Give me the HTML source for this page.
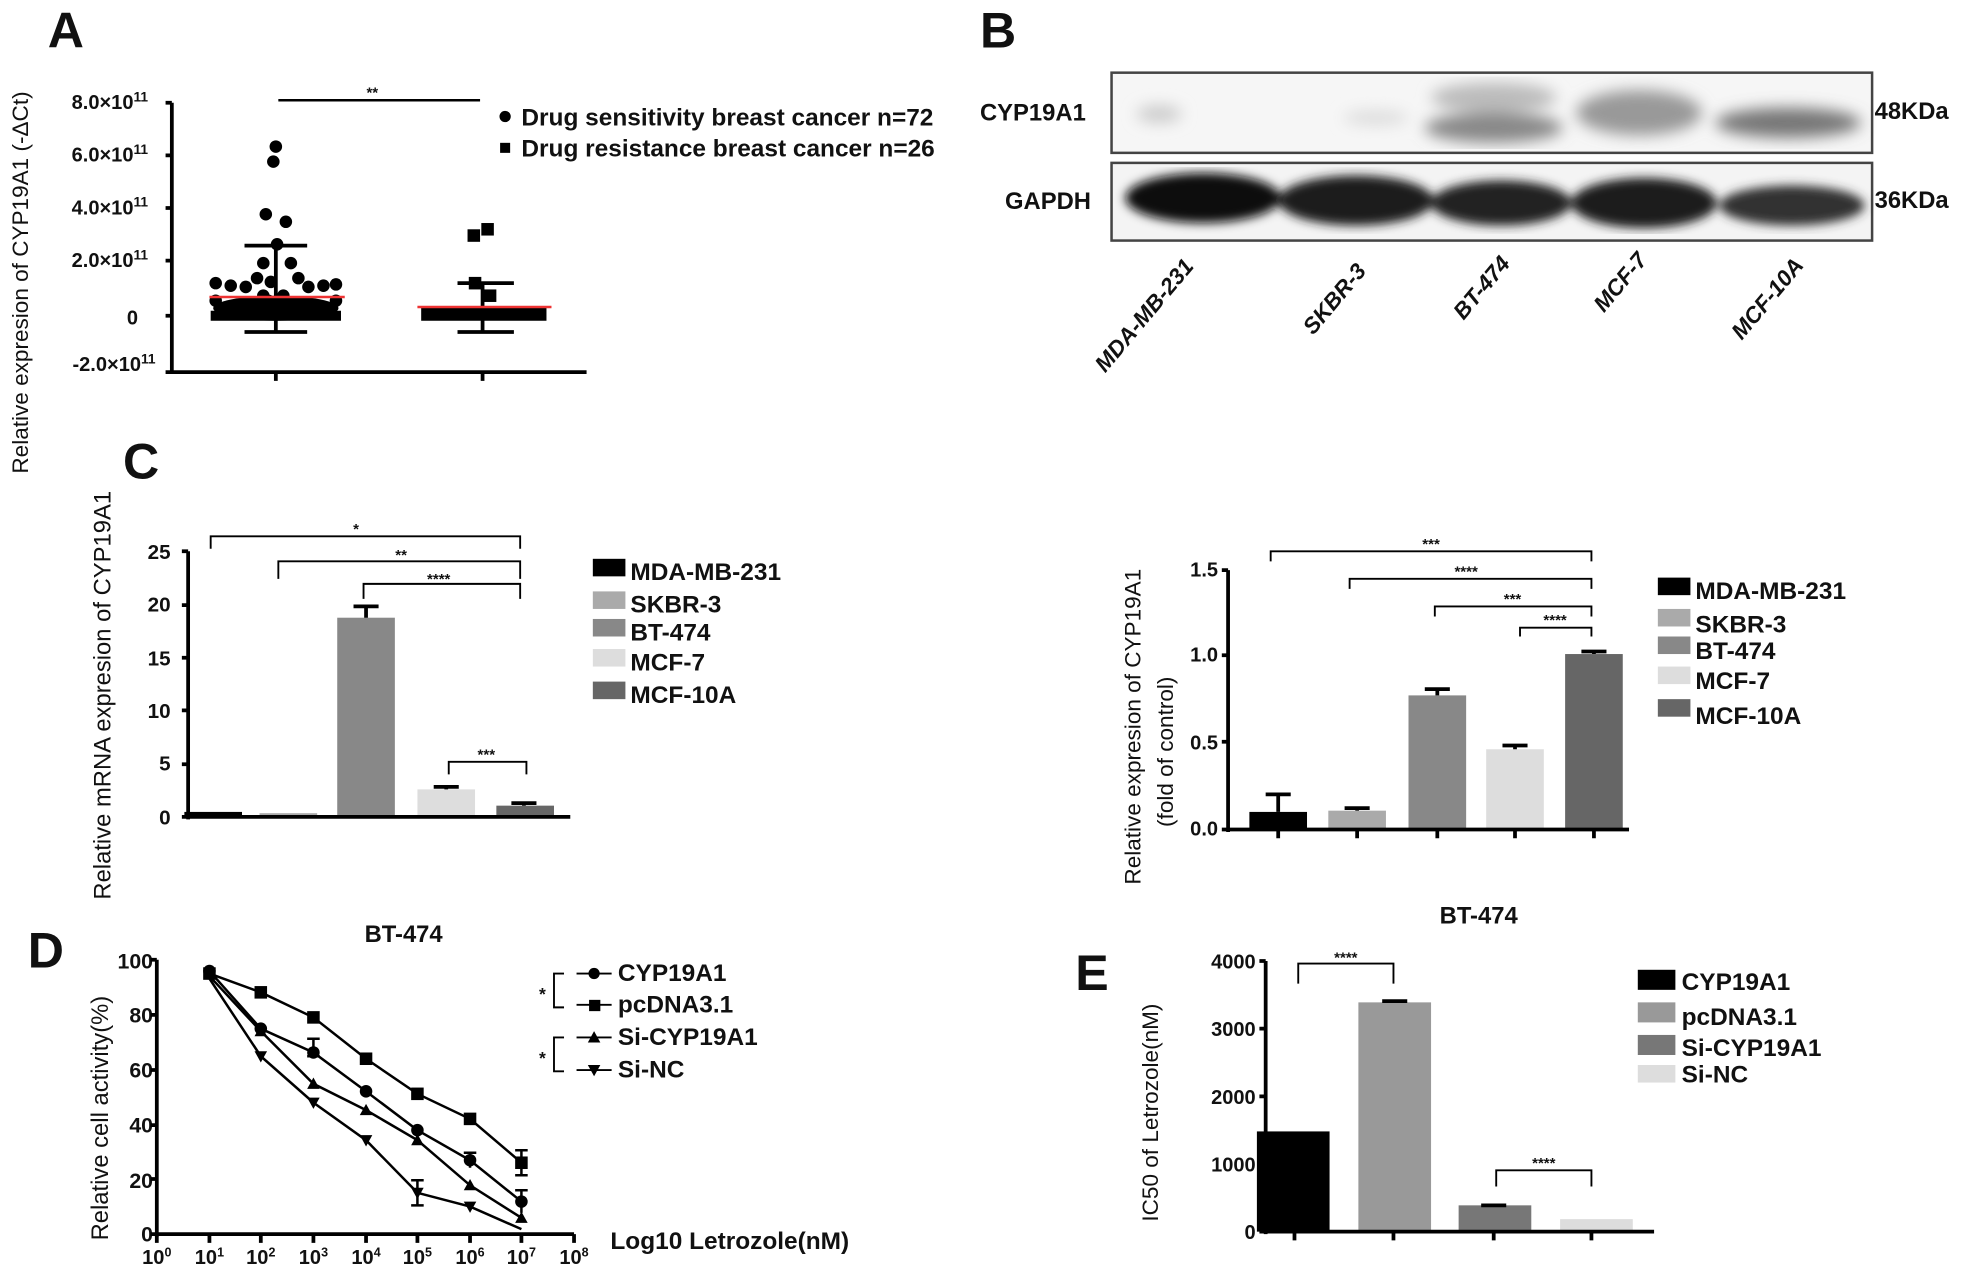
<!DOCTYPE html>
<html><head><meta charset="utf-8"><style>
html,body{margin:0;padding:0;background:#fff}
svg{display:block}
text{font-family:"Liberation Sans",Arial,sans-serif;font-weight:bold;fill:#111}
</style></head><body>
<svg width="1965" height="1273" viewBox="0 0 1568 1016" xmlns="http://www.w3.org/2000/svg">
<defs>
<filter id="blur"><feGaussianBlur stdDeviation="6"/></filter>
<filter id="blur2"><feGaussianBlur stdDeviation="4"/></filter>
</defs>
<!-- Panel A -->
<text x="38" y="38" font-size="40">A</text>
<text transform="translate(22,378) rotate(-90)" font-size="18" style="font-weight:normal">Relative expresion of CYP19A1 (-ΔCt)</text>
<g font-size="16" text-anchor="end">
<text x="118" y="87">8.0×10<tspan font-size="11" dy="-6">11</tspan></text>
<text x="118" y="129">6.0×10<tspan font-size="11" dy="-6">11</tspan></text>
<text x="118" y="171">4.0×10<tspan font-size="11" dy="-6">11</tspan></text>
<text x="118" y="213">2.0×10<tspan font-size="11" dy="-6">11</tspan></text>
<text x="110" y="259">0</text>
<text x="124" y="296">-2.0×10<tspan font-size="11" dy="-6">11</tspan></text>
</g>
<g stroke="#000" stroke-width="3" fill="none">
<path d="M137 82V297M132 297H468M132 82H137M132 124H137M132 166H137M132 208H137M132 252H137M220 297V304M385 297V304"/>
<path d="M222 80H383" stroke-width="2"/>
</g>
<text x="297" y="78" font-size="12" text-anchor="middle">**</text>
<g fill="#000">
<ellipse cx="220" cy="246" rx="50" ry="10"/>
<rect x="168" y="248" width="104" height="8"/>
<circle cx="220" cy="117" r="5"/><circle cx="218" cy="129" r="5"/>
<circle cx="212" cy="171" r="5"/><circle cx="228" cy="177" r="5"/>
<circle cx="221" cy="195" r="5"/><circle cx="210" cy="210" r="5"/><circle cx="232" cy="210" r="5"/>
<circle cx="238" cy="222" r="5"/><circle cx="205" cy="222" r="5"/><circle cx="216" cy="225" r="5"/>
<circle cx="172" cy="226" r="5"/><circle cx="184" cy="228" r="5"/><circle cx="196" cy="229" r="5"/><circle cx="246" cy="229" r="5"/><circle cx="258" cy="228" r="5"/><circle cx="268" cy="227" r="5"/>
<circle cx="210" cy="236" r="5"/><circle cx="226" cy="236" r="5"/><circle cx="214" cy="240" r="5"/>
<circle cx="172" cy="240" r="5"/><circle cx="268" cy="240" r="5"/>
</g>
<g stroke="#000" stroke-width="3"><path d="M220 193V265M195 196H245M195 265H245"/></g>
<path d="M167 237H275" stroke="#e33" stroke-width="2"/>
<g fill="#000">
<rect x="336" y="245" width="100" height="11"/>
<rect x="384" y="178" width="10" height="10"/><rect x="373" y="183" width="10" height="10"/>
<rect x="374" y="221" width="10" height="10"/><rect x="386" y="231" width="10" height="10"/>
</g>
<g stroke="#000" stroke-width="3"><path d="M385 225V265M365 226H410M365 265H410"/></g>
<path d="M333 245H440" stroke="#e33" stroke-width="2"/>
<circle cx="403" cy="93" r="4.5" fill="#000"/>
<rect x="399" y="114" width="8" height="8" fill="#000"/>
<text x="416" y="100" font-size="19.5">Drug sensitivity breast cancer n=72</text>
<text x="416" y="125" font-size="19.5">Drug resistance breast cancer n=26</text>

<!-- Panel B -->
<text x="782" y="38" font-size="40">B</text>
<rect x="887" y="58" width="607" height="64" fill="#f6f6f6" stroke="#444" stroke-width="2"/>
<rect x="887" y="130" width="607" height="62" fill="#f4f4f4" stroke="#444" stroke-width="2"/>
<g filter="url(#blur)">
<ellipse cx="925" cy="91" rx="18" ry="7" fill="#ccc"/>
<ellipse cx="1098" cy="94" rx="26" ry="6" fill="#ddd"/>
<ellipse cx="1192" cy="78" rx="50" ry="12" fill="#bbb"/>
<ellipse cx="1192" cy="102" rx="55" ry="12" fill="#888"/>
<ellipse cx="1308" cy="90" rx="50" ry="18" fill="#999"/>
<ellipse cx="1427" cy="98" rx="58" ry="12" fill="#777"/>
</g>
<g filter="url(#blur2)">
<ellipse cx="960" cy="158" rx="62" ry="20" fill="#0a0a0a"/>
<ellipse cx="1082" cy="160" rx="62" ry="20" fill="#1a1a1a"/>
<ellipse cx="1198" cy="162" rx="56" ry="18" fill="#222"/>
<ellipse cx="1312" cy="162" rx="58" ry="20" fill="#1a1a1a"/>
<ellipse cx="1430" cy="164" rx="58" ry="16" fill="#333"/>
</g>
<text x="782" y="96" font-size="19">CYP19A1</text>
<text x="802" y="167" font-size="19">GAPDH</text>
<text x="1496" y="95" font-size="19">48KDa</text>
<text x="1496" y="166" font-size="19">36KDa</text>
<g font-size="18" font-style="italic">
<text transform="translate(882,298) rotate(-50)">MDA-MB-231</text>
<text transform="translate(1048,268) rotate(-50)">SKBR-3</text>
<text transform="translate(1168,256) rotate(-50)">BT-474</text>
<text transform="translate(1280,250) rotate(-50)">MCF-7</text>
<text transform="translate(1390,272) rotate(-50)">MCF-10A</text>
</g>

<!-- Panel C -->
<text x="98" y="382" font-size="40">C</text>
<text transform="translate(88,718) rotate(-90)" font-size="19" style="font-weight:normal">Relative mRNA expresion of CYP19A1</text>
<g font-size="16.5" text-anchor="end">
<text x="136" y="446">25</text><text x="136" y="488">20</text><text x="136" y="531">15</text><text x="136" y="573">10</text><text x="136" y="615">5</text><text x="136" y="658">0</text>
</g>
<rect x="147" y="648" width="46" height="4" fill="#000"/>
<rect x="207" y="649" width="46" height="3" fill="#aaa"/>
<rect x="269" y="493" width="46" height="159" fill="#888"/>
<rect x="333" y="630" width="46" height="22" fill="#ddd"/>
<rect x="396" y="643" width="46" height="9" fill="#666"/>
<g stroke="#000" stroke-width="3" fill="none">
<path d="M150 440V654M145 440H150M145 483H150M145 525H150M145 567H150M145 610H150M145 652H455"/>
<path d="M292 493V484M282 484H302M356 630V628M346 628H366M418 643V641M408 641H428"/>
</g>
<g stroke="#000" stroke-width="1.5" fill="none">
<path d="M168 438V428H415V438M222 462V448H415V462M290 478V466H415V478M358 618V608H420V618"/>
</g>
<g font-size="12" text-anchor="middle"><text x="284" y="426">*</text><text x="320" y="447">**</text><text x="350" y="466">****</text><text x="388" y="606">***</text></g>
<g font-size="19.5">
<rect x="473" y="446" width="26" height="14" fill="#000"/><text x="503" y="463">MDA-MB-231</text>
<rect x="473" y="472" width="26" height="14" fill="#aaa"/><text x="503" y="489">SKBR-3</text>
<rect x="473" y="494" width="26" height="14" fill="#888"/><text x="503" y="511">BT-474</text>
<rect x="473" y="518" width="26" height="14" fill="#ddd"/><text x="503" y="535">MCF-7</text>
<rect x="473" y="544" width="26" height="14" fill="#666"/><text x="503" y="561">MCF-10A</text>
</g>

<!-- right panel protein -->
<text transform="translate(910,706) rotate(-90)" font-size="18" style="font-weight:normal">Relative expresion of CYP19A1</text>
<text transform="translate(936,660) rotate(-90)" font-size="18" style="font-weight:normal">(fold of control)</text>
<g font-size="16" text-anchor="end">
<text x="972" y="460">1.5</text><text x="972" y="528">1.0</text><text x="972" y="598">0.5</text><text x="972" y="667">0.0</text>
</g>
<rect x="997" y="648" width="46" height="14" fill="#000"/>
<rect x="1060" y="647" width="46" height="15" fill="#aaa"/>
<rect x="1124" y="555" width="46" height="107" fill="#888"/>
<rect x="1186" y="598" width="46" height="64" fill="#ddd"/>
<rect x="1249" y="522" width="46" height="140" fill="#666"/>
<g stroke="#000" stroke-width="3" fill="none">
<path d="M980 455V664M975 455H980M975 523H980M975 592H980M975 662H1300M1020 662V669M1083 662V669M1147 662V669M1209 662V669M1272 662V669"/>
<path d="M1020 648V634M1010 634H1030M1083 647V645M1073 645H1093M1147 555V550M1137 550H1157M1209 598V595M1199 595H1219M1272 522V520M1262 520H1282"/>
</g>
<g stroke="#000" stroke-width="1.5" fill="none">
<path d="M1014 448V440H1270V448M1077 470V462H1270V470M1145 492V484H1270V492M1213 508V501H1270V508"/>
</g>
<g font-size="12" text-anchor="middle"><text x="1142" y="438">***</text><text x="1170" y="460">****</text><text x="1207" y="482">***</text><text x="1241" y="499">****</text></g>
<g font-size="19.5">
<rect x="1323" y="461" width="26" height="14" fill="#000"/><text x="1353" y="478">MDA-MB-231</text>
<rect x="1323" y="486" width="26" height="14" fill="#aaa"/><text x="1353" y="505">SKBR-3</text>
<rect x="1323" y="508" width="26" height="14" fill="#888"/><text x="1353" y="526">BT-474</text>
<rect x="1323" y="532" width="26" height="14" fill="#ddd"/><text x="1353" y="550">MCF-7</text>
<rect x="1323" y="558" width="26" height="14" fill="#666"/><text x="1353" y="578">MCF-10A</text>
</g>

<!-- Panel D -->
<text x="22" y="772" font-size="40">D</text>
<text x="322" y="752" font-size="19" text-anchor="middle">BT-474</text>
<text transform="translate(86,990) rotate(-90)" font-size="19" style="font-weight:normal">Relative cell activity(%)</text>
<g font-size="17" text-anchor="end">
<text x="122" y="773">100</text><text x="122" y="816">80</text><text x="122" y="860">60</text><text x="122" y="904">40</text><text x="122" y="948">20</text><text x="122" y="991">0</text>
</g>
<g stroke="#000" stroke-width="3" fill="none">
<path d="M125 766V987M120 766H125M120 810H125M120 854H125M120 898H125M120 941H125M120 985H458"/>
<path d="M125 985V992M167 985V992M208 985V992M250 985V992M292 985V992M333 985V992M375 985V992M416 985V992M458 985V992"/>
</g>
<g font-size="16" text-anchor="middle">
<text x="125" y="1009">10<tspan font-size="10" dy="-6">0</tspan></text>
<text x="167" y="1009">10<tspan font-size="10" dy="-6">1</tspan></text>
<text x="208" y="1009">10<tspan font-size="10" dy="-6">2</tspan></text>
<text x="250" y="1009">10<tspan font-size="10" dy="-6">3</tspan></text>
<text x="292" y="1009">10<tspan font-size="10" dy="-6">4</tspan></text>
<text x="333" y="1009">10<tspan font-size="10" dy="-6">5</tspan></text>
<text x="375" y="1009">10<tspan font-size="10" dy="-6">6</tspan></text>
<text x="416" y="1009">10<tspan font-size="10" dy="-6">7</tspan></text>
<text x="458" y="1009">10<tspan font-size="10" dy="-6">8</tspan></text>
</g>
<text x="487" y="997" font-size="19.5">Log10 Letrozole(nM)</text>
<g stroke="#000" stroke-width="2" fill="none">
<polyline points="167,777 208,792 250,812 292,845 333,873 375,893 416,928"/>
<polyline points="167,775 208,821 250,840 292,871 333,902 375,926 416,959"/>
<polyline points="167,779 208,823 250,865 292,886 333,910 375,946 416,972"/>
<polyline points="167,781 208,843 250,880 292,910 333,952 375,963 416,981"/>
<path d="M250 843V829M245 829H255M245 843H255M333 962V942M328 942H338M328 962H338M416 938V918M411 918H421M411 938H421M416 968V950M411 950H421M375 932V920M370 920H380"/>
</g>
<g fill="#000">
<g><rect x="162" y="772" width="10" height="10"/><rect x="203" y="787" width="10" height="10"/><rect x="245" y="807" width="10" height="10"/><rect x="287" y="840" width="10" height="10"/><rect x="328" y="868" width="10" height="10"/><rect x="370" y="888" width="10" height="10"/><rect x="411" y="923" width="10" height="10"/></g>
<g><circle cx="167" cy="775" r="5"/><circle cx="208" cy="821" r="5"/><circle cx="250" cy="840" r="5"/><circle cx="292" cy="871" r="5"/><circle cx="333" cy="902" r="5"/><circle cx="375" cy="926" r="5"/><circle cx="416" cy="959" r="5"/></g>
<g><path d="M203 827l5-9 5 9zM245 869l5-9 5 9zM287 890l5-9 5 9zM328 914l5-9 5 9zM370 950l5-9 5 9zM411 976l5-9 5 9z"/></g>
<g><path d="M203 839l5 9 5-9zM245 876l5 9 5-9zM287 906l5 9 5-9zM328 948l5 9 5-9zM370 959l5 9 5-9z"/></g>
</g>
<g stroke="#000" stroke-width="1.5" fill="none">
<path d="M450 777H442V804H450M450 828H442V855H450"/>
<path d="M460 777H488M460 802H488M460 828H488M460 854H488"/>
</g>
<g fill="#000">
<circle cx="474" cy="777" r="4.5"/><rect x="470" y="798" width="9" height="9"/><path d="M469 832l5-9 5 9z"/><path d="M469 850l5 9 5-9z"/>
</g>
<text x="430" y="798" font-size="14">*</text><text x="430" y="849" font-size="14">*</text>
<g font-size="19.5"><text x="493" y="783">CYP19A1</text><text x="493" y="808">pcDNA3.1</text><text x="493" y="834">Si-CYP19A1</text><text x="493" y="860">Si-NC</text></g>

<!-- Panel E -->
<text x="858" y="790" font-size="40">E</text>
<text x="1180" y="737" font-size="19" text-anchor="middle">BT-474</text>
<text transform="translate(924,975) rotate(-90)" font-size="18" style="font-weight:normal">IC50 of Letrozole(nM)</text>
<g font-size="16" text-anchor="end">
<text x="1002" y="773">4000</text><text x="1002" y="827">3000</text><text x="1002" y="881">2000</text><text x="1002" y="935">1000</text><text x="1002" y="989">0</text>
</g>
<rect x="1003" y="903" width="58" height="80" fill="#000"/>
<rect x="1084" y="800" width="58" height="183" fill="#999"/>
<rect x="1164" y="962" width="58" height="21" fill="#777"/>
<rect x="1245" y="973" width="58" height="10" fill="#ddd"/>
<g stroke="#000" stroke-width="3" fill="none">
<path d="M1010 767V985M1005 767H1010M1005 821H1010M1005 875H1010M1005 929H1010M1005 983H1320M1033 983V990M1112 983V990M1192 983V990M1270 983V990"/>
<path d="M1103 799H1123M1182 962H1202"/>
</g>
<g stroke="#000" stroke-width="1.5" fill="none">
<path d="M1036 785V769H1112V785M1194 947V934H1270V947"/>
</g>
<g font-size="12" text-anchor="middle"><text x="1074" y="768">****</text><text x="1232" y="932">****</text></g>
<g font-size="19.5">
<rect x="1307" y="774" width="30" height="16" fill="#000"/><text x="1342" y="790">CYP19A1</text>
<rect x="1307" y="800" width="30" height="16" fill="#999"/><text x="1342" y="818">pcDNA3.1</text>
<rect x="1307" y="826" width="30" height="16" fill="#777"/><text x="1342" y="843">Si-CYP19A1</text>
<rect x="1307" y="850" width="30" height="14" fill="#ddd"/><text x="1342" y="864">Si-NC</text>
</g>
</svg>
</body></html>
